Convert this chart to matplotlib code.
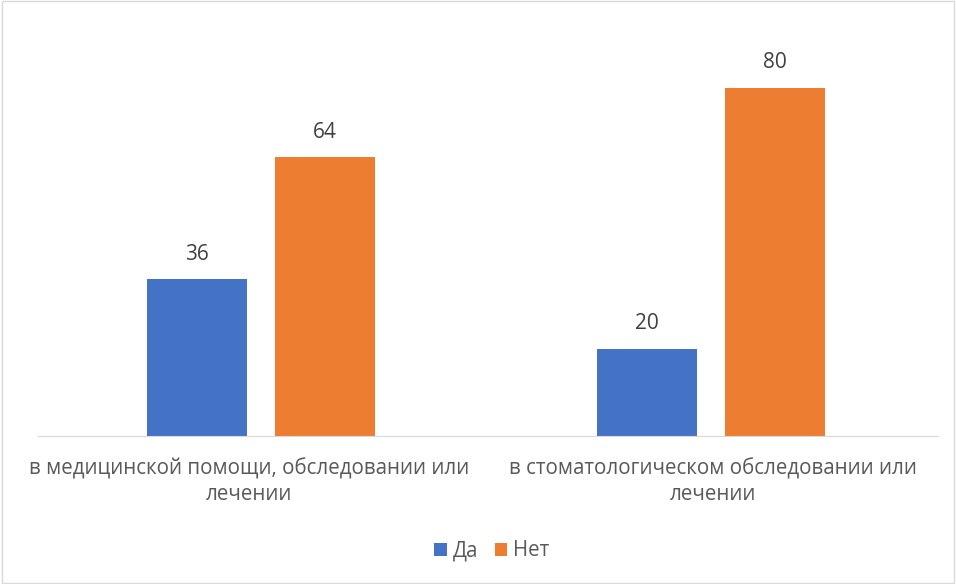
import matplotlib
matplotlib.use("Agg")
import matplotlib.pyplot as plt
import matplotlib.transforms as mtransforms
from matplotlib.patches import Rectangle
import numpy as np

categories = ["в медицинской помощи, обследовании или\nлечении",
              "в стоматологическом обследовании или\nлечении"]
series_names = ["Да", "Нет"]
da_values = [36, 20]
net_values = [64, 80]
colors = ["#4472C4", "#ED7D31"]

def main():
    plt.rcParams['font.family'] = ['Open Sans', 'DejaVu Sans']
    fig = plt.figure(figsize=(9.56, 5.84), dpi=100)
    fig.patches.append(Rectangle((0.002, 0.002), 0.996, 0.996, transform=fig.transFigure,
                                 fill=False, edgecolor="#D9D9D9", linewidth=1))
    ax = fig.add_axes([38/956, 1-436/584, 900/956, 392/584])

    x = np.arange(len(categories)) - 0.0044
    w = 0.222
    off = 0.142
    b1 = ax.bar(x - off, da_values, w, color=colors[0], label=series_names[0])
    b2 = ax.bar(x + off, net_values, w, color=colors[1], label=series_names[1])
    for bars in (b1, b2):
        for r in bars:
            ax.annotate(str(int(r.get_height())), (r.get_x() + r.get_width()/2, r.get_height()),
                        xytext=(0, 18), textcoords="offset points",
                        ha="center", va="center", fontsize=15, color="#404040")

    ax.set_xlim(-0.5, 1.5)
    ax.set_ylim(0, 90)
    ax.set_yticks([])
    ax.set_xticks(np.arange(len(categories)))
    ax.set_xticklabels(categories, fontsize=14.8, color="#595959", linespacing=1.25)
    ax.tick_params(axis="x", length=0, pad=16)
    # first label sits a bit left of its category centre
    lbl = ax.get_xticklabels()[0]
    lbl.set_transform(lbl.get_transform() + mtransforms.ScaledTranslation(-14/100, 0, fig.dpi_scale_trans))
    for s in ["top", "right", "left"]:
        ax.spines[s].set_visible(False)
    ax.spines["bottom"].set_color("#D9D9D9")

    fig.legend(handles=[b1, b2], loc="center", bbox_to_anchor=(492/956, 1-551/584), ncol=2,
               frameon=False, fontsize=14.8, handlelength=0.6, handleheight=0.6,
               handletextpad=0.3, columnspacing=0.8, labelcolor="#595959")

    fig.savefig("out.png", dpi=100)

if __name__ == "__main__":
    main()
